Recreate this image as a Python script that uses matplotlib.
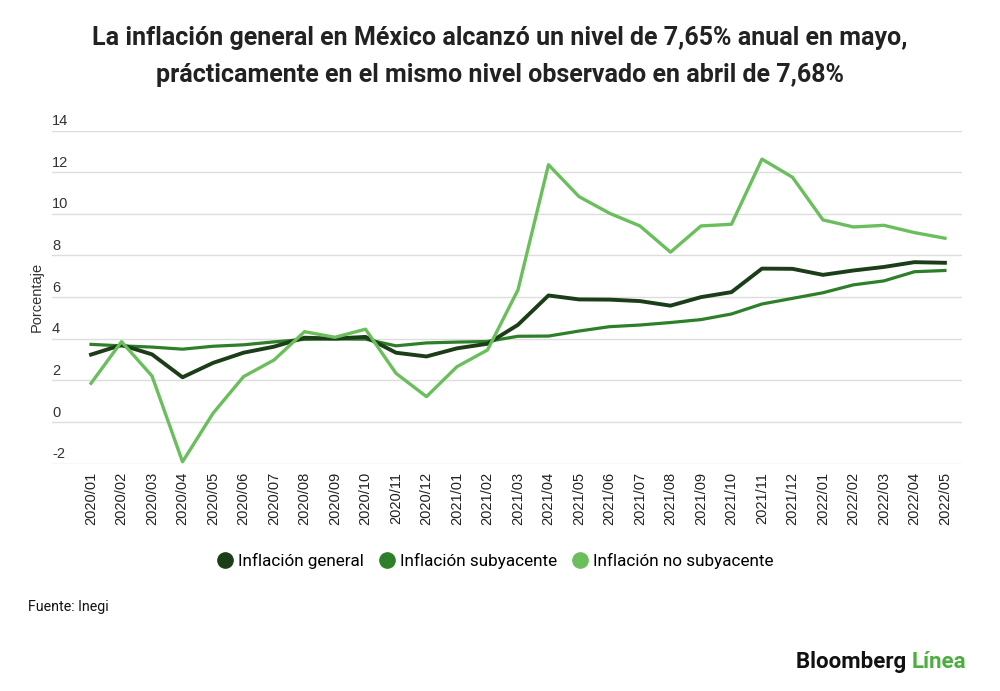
import numpy as np
import matplotlib.pyplot as plt

# datos (variación anual, %)
periodos = ["2020/01", "2020/02", "2020/03", "2020/04", "2020/05", "2020/06", "2020/07",
            "2020/08", "2020/09", "2020/10", "2020/11", "2020/12", "2021/01", "2021/02",
            "2021/03", "2021/04", "2021/05", "2021/06", "2021/07", "2021/08", "2021/09",
            "2021/10", "2021/11", "2021/12", "2022/01", "2022/02", "2022/03", "2022/04",
            "2022/05"]
general = [3.24, 3.70, 3.25, 2.15, 2.84, 3.33, 3.62, 4.05, 4.01, 4.09, 3.33, 3.15, 3.54, 3.76,
           4.67, 6.08, 5.89, 5.88, 5.81, 5.59, 6.00, 6.24, 7.37, 7.36, 7.07, 7.28, 7.45, 7.68, 7.65]
subyacente = [3.73, 3.66, 3.60, 3.50, 3.64, 3.71, 3.85, 3.97, 3.99, 3.98, 3.66, 3.80, 3.84, 3.87,
              4.12, 4.13, 4.37, 4.58, 4.66, 4.78, 4.92, 5.19, 5.67, 5.94, 6.21, 6.59, 6.78, 7.22, 7.28]
no_subyacente = [1.86, 3.86, 2.21, -1.91, 0.42, 2.18, 2.98, 4.34, 4.07, 4.46, 2.34, 1.22, 2.66, 3.46,
                 6.35, 12.36, 10.83, 10.03, 9.42, 8.16, 9.42, 9.50, 12.63, 11.76, 9.71, 9.37, 9.45, 9.10, 8.83]
yticks = [-2, 0, 2, 4, 6, 8, 10, 12, 14]

c_gen = "#1b3d17"
c_sub = "#2e7f2a"
c_nosub = "#6abf5c"

plt.rcParams['font.family'] = ['Roboto', 'DejaVu Sans']

fig = plt.figure(figsize=(10, 6.91), dpi=100)
ax = fig.add_axes([0.052, 0.329, 0.910, 0.482])

x = np.arange(len(periodos))
ax.plot(x, subyacente, color=c_sub, lw=2.3, zorder=3)
ax.plot(x, general, color=c_gen, lw=2.8, zorder=4)
ax.plot(x, no_subyacente, color=c_nosub, lw=2.4, zorder=5)

ax.set_xlim(-1.28, len(periodos) - 1 + 0.56)
ax.set_ylim(-2, 14)
ax.set_yticks(yticks)
ax.yaxis.grid(True, color="#dddddd", lw=1)
ax.set_axisbelow(True)
ax.tick_params(axis='y', length=0, labelleft=False)
for v in yticks:
    ax.text(-1.28, v + 0.12, str(v), fontsize=10.5, color="#333333", ha='left', va='bottom',
            family='Liberation Sans')

ax.set_xticks(x)
ax.set_xticklabels(periodos, rotation=90, fontsize=10.5, color="#222222", family='Liberation Sans',
                   va='top')
ax.tick_params(axis='x', length=0, pad=6)
for s in ax.spines.values():
    s.set_visible(False)

fig.text(0.037, 0.57, "Porcentaje", rotation=90, fontsize=10.5, color="#333333",
         ha='center', va='center', family='Liberation Sans')

fig.text(0.5, 0.945, "La inflación general en México alcanzó un nivel de 7,65% anual en mayo,",
         fontsize=18, fontweight='bold', ha='center', va='center', color="#222222")
fig.text(0.5, 0.891, "prácticamente en el mismo nivel observado en abril de 7,68%",
         fontsize=18, fontweight='bold', ha='center', va='center', color="#222222")

# leyenda
handles = [plt.Line2D([], [], ls='none', marker='o', ms=11, color=c) for c in (c_gen, c_sub, c_nosub)]
fig.legend(handles, ["Inflación general", "Inflación subyacente", "Inflación no subyacente"],
           loc='center', bbox_to_anchor=(0.495, 0.188), ncol=3, frameon=False,
           handletextpad=0.3, columnspacing=0.8, handlelength=1.0,
           prop={'family': 'Roboto', 'size': 12.3})

fig.text(0.028, 0.121, "Fuente: Inegi", fontsize=10.3, color="#111111",
         ha='left', va='center')

t = fig.text(0.796, 0.042, "Bloomberg ", fontsize=16, fontweight='bold',
             color="#111111", ha='left', va='center')
fig.canvas.draw()
bb = t.get_window_extent()
fig.text(bb.x1 / fig.bbox.width, 0.042, "Línea", fontsize=16, fontweight='bold',
         color="#4cae3f", ha='left', va='center')

fig.savefig("out.png", dpi=100, facecolor='white')
